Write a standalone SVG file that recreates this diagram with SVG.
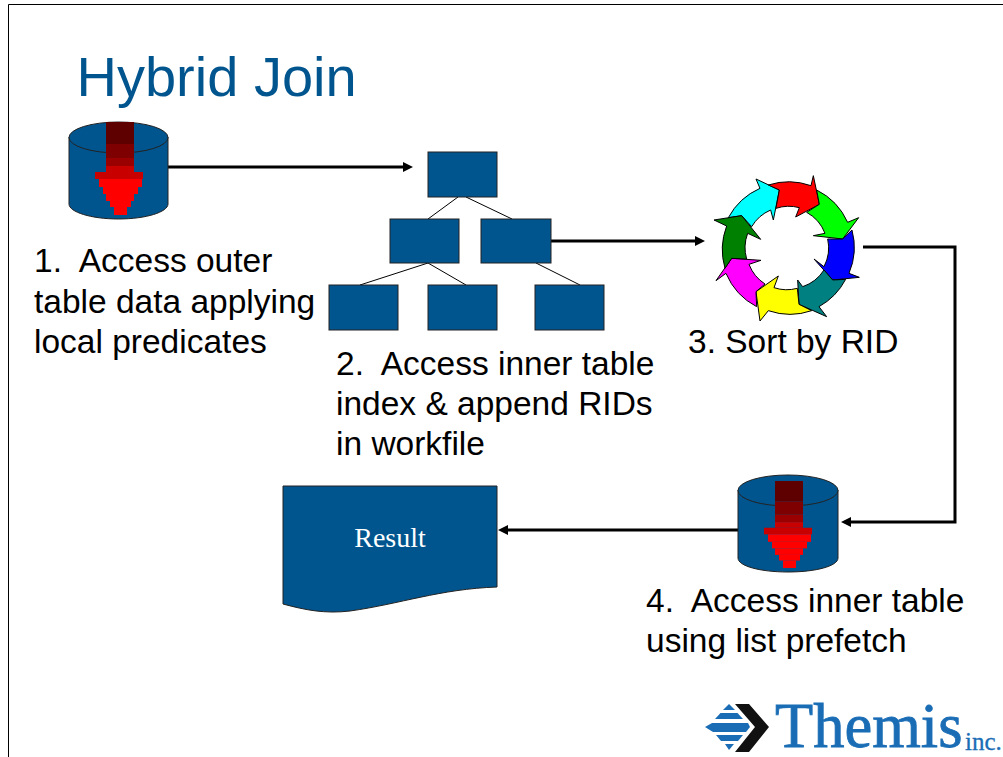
<svg xmlns="http://www.w3.org/2000/svg" width="1003" height="757" viewBox="0 0 1003 757">
<style>
text{white-space:pre}
.t{font-family:"Liberation Sans",Arial,sans-serif;font-size:33.500px;fill:#000}
.b{fill:#00558F;stroke:#222;stroke-width:1}
.c{fill:none;stroke:#000;stroke-width:3}
.l{fill:none;stroke:#000;stroke-width:1}
.r{stroke:#000;stroke-width:3;stroke-linejoin:miter}
</style>
<defs>
<marker id="ah" markerUnits="userSpaceOnUse" markerWidth="11" markerHeight="12" refX="2" refY="5" orient="auto"><path d="M0 0L10 5L0 10z" fill="#000"/></marker>
<g id="arrow1">
<rect x="0" y="0" width="28" height="22" fill="#5F0000"/>
<rect x="0" y="22" width="28" height="14" fill="#7F0000"/>
<rect x="0" y="36" width="28" height="8" fill="#9A0000"/>
<rect x="0" y="44" width="28" height="6" fill="#C80000"/>
<rect x="-11" y="50" width="48" height="7" fill="#C80000"/>
<rect x="-7" y="57" width="43" height="8" fill="#F00"/>
<rect x="-3" y="65" width="35" height="7" fill="#F00"/>
<rect x="0" y="72" width="28" height="7" fill="#F00"/>
<rect x="4" y="79" width="21" height="6" fill="#F00"/>
<rect x="8" y="85" width="13" height="8" fill="#F00"/>
</g>
</defs>
<rect width="1003" height="757" fill="#fff"/>
<path d="M8.500 757V4.500H1003" fill="none" stroke="#000" stroke-width="1"/>
<text id="title" x="76.500" y="96" font-family="'Liberation Sans',Arial,sans-serif" font-size="56" fill="#00558F">Hybrid Join</text>

<g id="connectors">
<path class="c" d="M168 167H405" marker-end="url(#ah)"/>
<path class="c" d="M551 241H697" marker-end="url(#ah)"/>
<path class="c" d="M863 247H955V522H849" marker-end="url(#ah)"/>
<path class="c" d="M738 530H506" marker-end="url(#ah)"/>
<path class="l" d="M458 197L428 219M466 197L512 219M428 263L360 285M428 263L466 285M536 263L580 285"/>
</g>

<g id="cyl1">
<path class="b" d="M69 137V204C69 212 91 219 118.500 219S168 212 168 204V137z"/>
<ellipse class="b" cx="118.500" cy="137.500" rx="49.500" ry="15.500"/>
<use href="#arrow1" x="106" y="122"/>
</g>
<g id="label1">
<text class="t" x="34" y="272">1.  Access outer</text>
<text class="t" x="34" y="312.500">table data applying</text>
<text class="t" x="34" y="353">local predicates</text>
</g>

<g id="tree">
<rect class="b" x="428" y="152" width="69" height="45"/>
<rect class="b" x="390" y="219" width="69" height="44"/>
<rect class="b" x="481" y="219" width="70" height="44"/>
<rect class="b" x="329" y="285" width="69" height="45"/>
<rect class="b" x="428" y="285" width="69" height="45"/>
<rect class="b" x="535" y="285" width="69" height="45"/>
</g>
<g id="label2">
<text class="t" x="336" y="375">2.  Access inner table</text>
<text class="t" x="336" y="415">index &amp; append RIDs</text>
<text class="t" x="336" y="455">in workfile</text>
</g>

<g id="ring" transform="translate(700 165) scale(.33333)">
<path class="r" fill="#0FF" d="M85 158A200 200 0 0 1 180 70L168 42L238 75L220 165L212 135A122 122 0 0 0 155 185L125 152z"/>
<path class="r" fill="#F00" d="M205 60A200 200 0 0 1 333 62L340 32L358 118L287 156L298 128A122 122 0 0 0 228 130L238 75z"/>
<path class="r" fill="#0F0" d="M350 75A200 200 0 0 1 443 172L476 158L428 222L340 212L375 205A122 122 0 0 0 320 142L358 118z"/>
<path class="r" fill="#00F" d="M456 195A200 200 0 0 1 447 325L478 337L398 345L342 282L372 305A122 122 0 0 0 383 222L428 222z"/>
<path class="r" fill="#008080" d="M437 343A200 200 0 0 1 357 425L380 455L297 418L293 345L308 365A122 122 0 0 0 372 315L398 345z"/>
<path class="r" fill="#FF0" d="M335 437A200 200 0 0 1 205 437L180 468L168 380L235 333L222 368A122 122 0 0 0 292 370L297 418z"/>
<path class="r" fill="#F0F" d="M170 425A200 200 0 0 1 78 325L48 347L95 280L183 286L147 298A122 122 0 0 0 195 357L168 380z"/>
<path class="r" fill="#008000" d="M75 310A200 200 0 0 1 80 183L42 165L125 152L182 223L143 205A122 122 0 0 0 140 282L95 280z"/>
</g>
<g id="label3"><text class="t" x="688" y="353">3. Sort by RID</text></g>

<g id="cyl2">
<path class="b" d="M738 490V558C738 566 760 572 788 572S838 566 838 558V490z"/>
<ellipse class="b" cx="788" cy="490.500" rx="50" ry="15.500"/>
<g transform="translate(775 481) scale(1 .9355)"><use href="#arrow1"/></g>
</g>
<g id="label4">
<text class="t" x="646" y="612">4.  Access inner table</text>
<text class="t" x="646" y="652">using list prefetch</text>
</g>

<g id="result">
<path class="b" d="M283 486H497V587C440 589 400 604 350 611C325 614 305 610 283 604z"/>
<text x="390" y="547" text-anchor="middle" font-family="'Liberation Serif','Times New Roman',serif" font-size="28" fill="#fff">Result</text>
</g>

<g id="logo">
<g fill="#1A6DB5">
<path d="M729 704L735 710H723z"/>
<path d="M720.500 713H737.500L743 719H715z"/>
<path d="M712 723H748L750 727L746 732H713L705 727z"/>
<path d="M716 735H743L738 741H721z"/>
<path d="M725 744H734L729 750z"/>
</g>
<path fill="#111" d="M735 704H749L769 727L749 752H735L755 727z"/>
<text x="775" y="747" font-family="'Liberation Serif','Times New Roman',serif" font-size="62.500" fill="#1A6DB5" stroke="#1A6DB5" stroke-width=".8">Themis</text>
<text x="965" y="750" font-family="'Liberation Serif','Times New Roman',serif" font-size="25" fill="#1A6DB5" stroke="#1A6DB5" stroke-width=".3">inc.</text>
</g>
</svg>
